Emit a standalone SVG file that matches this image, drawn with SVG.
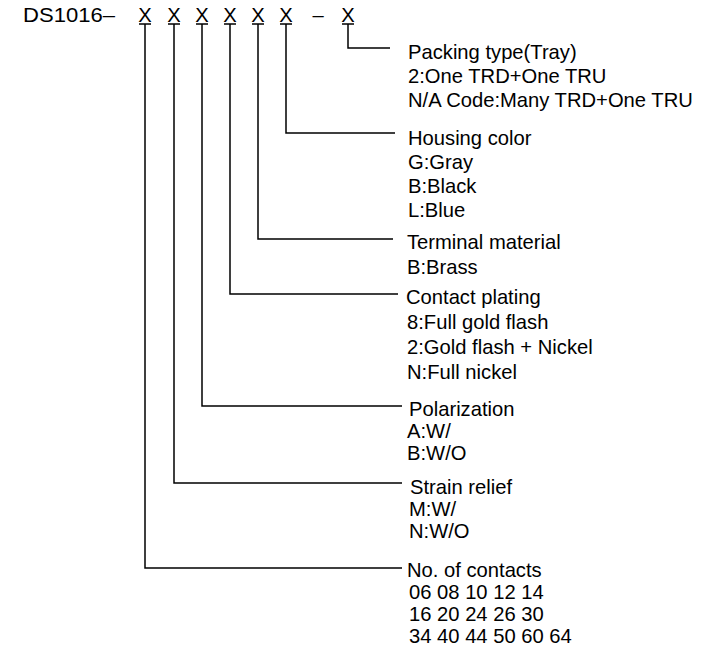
<svg xmlns="http://www.w3.org/2000/svg" width="718" height="649" viewBox="0 0 718 649">
<style>
text{font-family:"Liberation Sans",Arial,sans-serif;font-size:20.2px;fill:#000}
.c{fill:none;stroke:#000;stroke-width:1.5}
</style>
<rect width="718" height="649" fill="#fff"/>
<g id="header">
<text x="23" y="22" textLength="92" lengthAdjust="spacingAndGlyphs">DS1016–</text>
<text x="145" y="22" text-anchor="middle">X</text>
<text x="174" y="22" text-anchor="middle">X</text>
<text x="202" y="22" text-anchor="middle">X</text>
<text x="230" y="22" text-anchor="middle">X</text>
<text x="258" y="22" text-anchor="middle">X</text>
<text x="286" y="22" text-anchor="middle">X</text>
<text x="318" y="22" text-anchor="middle">–</text>
<text x="348" y="22" text-anchor="middle">X</text>
</g>
<g id="connectors" class="c">
<path d="M139 24H151M168 24H180M196 24H208M224 24H236M252 24H264M280 24H292M342 24H354"/>
<path d="M145 24V568H402"/>
<path d="M174 24V483H402"/>
<path d="M202 24V406H402"/>
<path d="M230 24V294H398"/>
<path d="M258 24V239H393"/>
<path d="M286 24V133H395"/>
<path d="M348 24V48H390"/>
</g>
<g id="packing">
<text x="408" y="59">Packing type(Tray)</text>
<text x="408" y="83">2:One TRD+One TRU</text>
<text x="408" y="107">N/A Code:Many TRD+One TRU</text>
</g>
<g id="housing">
<text x="408" y="145">Housing color</text>
<text x="408" y="169">G:Gray</text>
<text x="408" y="193">B:Black</text>
<text x="408" y="217">L:Blue</text>
</g>
<g id="terminal">
<text x="407" y="249">Terminal material</text>
<text x="407" y="274">B:Brass</text>
</g>
<g id="contact">
<text x="406" y="304">Contact plating</text>
<text x="407" y="329">8:Full gold flash</text>
<text x="407" y="354">2:Gold flash + Nickel</text>
<text x="407" y="379">N:Full nickel</text>
</g>
<g id="polarization">
<text x="409" y="416">Polarization</text>
<text x="407" y="438">A:W/</text>
<text x="407" y="460">B:W/O</text>
</g>
<g id="strain">
<text x="410" y="494">Strain relief</text>
<text x="409" y="516">M:W/</text>
<text x="409" y="538">N:W/O</text>
</g>
<g id="contacts">
<text x="407" y="577">No. of contacts</text>
<text x="409" y="599">06 08 10 12 14</text>
<text x="409" y="621">16 20 24 26 30</text>
<text x="409" y="643">34 40 44 50 60 64</text>
</g>
</svg>
